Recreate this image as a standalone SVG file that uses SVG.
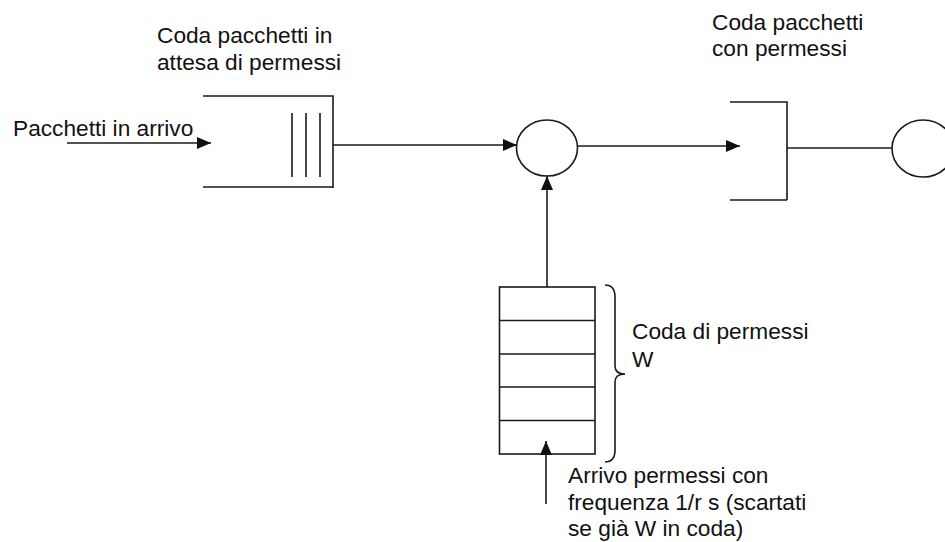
<svg xmlns="http://www.w3.org/2000/svg" width="945" height="542" viewBox="0 0 945 542">
  <style>
    .ln { stroke: #1a1a1a; stroke-width: 1.6; fill: none; }
    .srv { stroke: #1a1a1a; stroke-width: 1.6; fill: #ffffff; }
    .lbl { font-family: "Liberation Sans", Arial, Helvetica, sans-serif; font-size: 22.7px; fill: #111111; }
  </style>
  <defs>
    <marker id="arrow" viewBox="0 0 14 12" refX="14" refY="6" markerWidth="14" markerHeight="12" markerUnits="userSpaceOnUse" orient="auto">
      <path d="M0,0 L14,6 L0,12 Z" fill="#111111"/>
    </marker>
  </defs>
  <rect width="945" height="542" fill="#ffffff"/>

  <!-- waiting packet queue -->
  <g id="packet-queue">
    <path class="ln" d="M203,96 H333 V188 M203,187 H333"/>
    <path class="ln" d="M292,113 V177 M306,113 V177 M320,113 V177"/>
    <text class="lbl" x="157" y="43">Coda pacchetti in</text>
    <text class="lbl" x="157" y="70">attesa di permessi</text>
  </g>

  <!-- incoming label -->
  <g id="incoming">
    <text class="lbl" x="13" y="136">Pacchetti in arrivo</text>
  </g>

  <!-- permit gate server -->
  <g id="gate">
    <ellipse class="srv" cx="547" cy="148" rx="30.5" ry="28"/>
  </g>

  <!-- permitted packet queue -->
  <g id="permitted-queue">
    <path class="ln" d="M730,102 H787 V200 M730,200 H787"/>
    <text class="lbl" x="712" y="30">Coda pacchetti</text>
    <text class="lbl" x="712" y="56">con permessi</text>
  </g>

  <!-- output server -->
  <g id="output-server">
    <ellipse class="srv" cx="923" cy="148.5" rx="31" ry="28.5"/>
  </g>

  <!-- permit bucket with W slots -->
  <g id="permit-queue">
    <rect class="ln" x="499.5" y="287" width="95.5" height="167"/>
    <path class="ln" d="M499.5,320.5 H595 M499.5,354 H595 M499.5,387 H595 M499.5,420.5 H595"/>
    <path class="ln" d="M605,285 Q615,285 615,297 L615,366 Q615,374 625,374 Q615,374 615,382 L615,450 Q615,462 605,462"/>
    <text class="lbl" x="632" y="339">Coda di permessi</text>
    <text class="lbl" x="632" y="367">W</text>
  </g>

  <!-- permit arrival note -->
  <g id="permit-arrival">
    <text class="lbl" x="568" y="483">Arrivo permessi con</text>
    <text class="lbl" x="568" y="510">frequenza 1/r s (scartati</text>
    <text class="lbl" x="568" y="536">se già W in coda)</text>
  </g>

  <!-- connectors -->
  <g id="connectors">
    <path class="ln" d="M67,143 H211" marker-end="url(#arrow)"/>
    <path class="ln" d="M333,145 H517" marker-end="url(#arrow)"/>
    <path class="ln" d="M577.5,146 H740" marker-end="url(#arrow)"/>
    <path class="ln" d="M787,148 H892"/>
    <path class="ln" d="M547,287 V176" marker-end="url(#arrow)"/>
    <path class="ln" d="M546,504 V441" marker-end="url(#arrow)"/>
  </g>
</svg>
